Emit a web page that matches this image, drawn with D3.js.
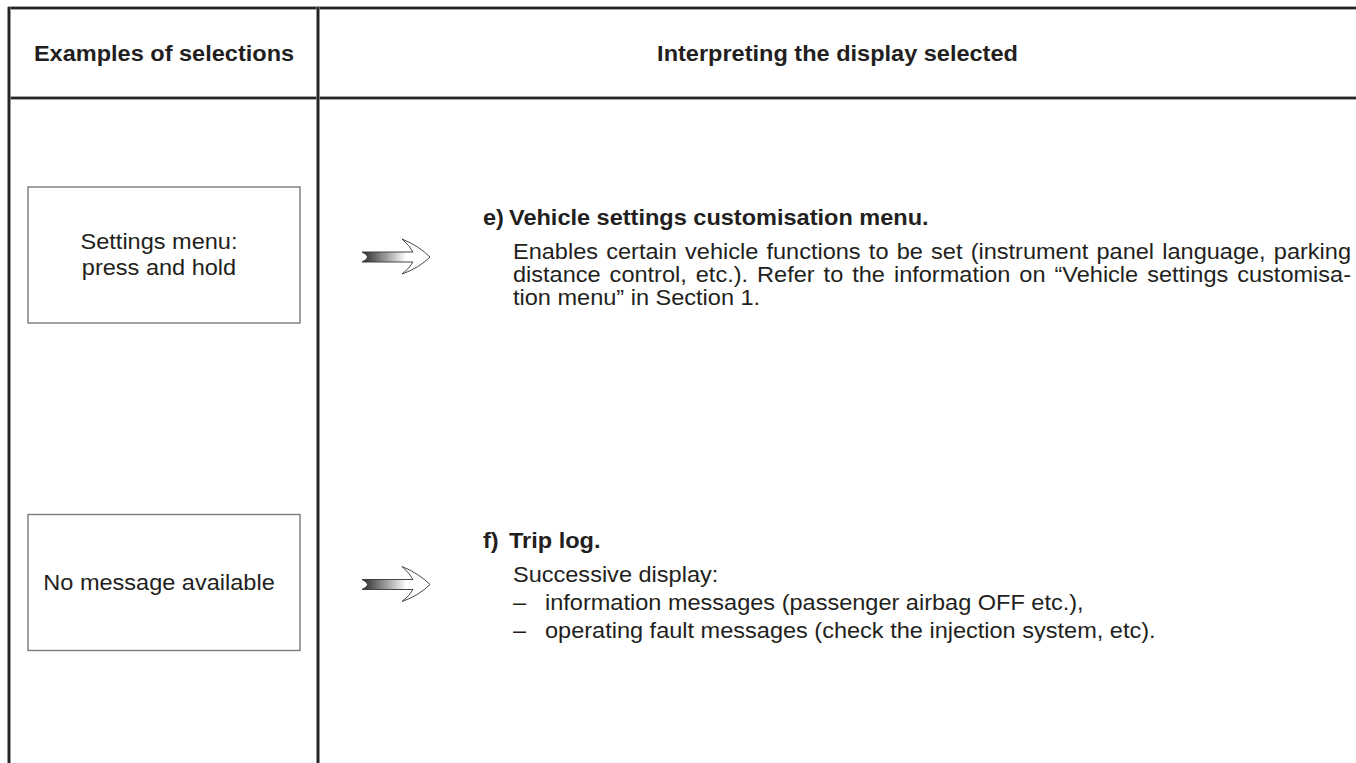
<!DOCTYPE html>
<html>
<head>
<meta charset="utf-8">
<script src="https://cdn.jsdelivr.net/npm/d3@7"></script>
<style>
  html, body { margin: 0; padding: 0; background: #fff; }
  svg { display: block; }
  text { font-family: "Liberation Sans", Arial, Helvetica, sans-serif; fill: #231f20; }
</style>
</head>
<body>
<script>
// ---- content ----
const columnHeaders = ["Examples of selections", "Interpreting the display selected"];
const selectionLabels = [["Settings menu:", "press and hold"], ["No message available"]];
const headingLetters = ["e)", "f)"];
const headingTitles = ["Vehicle settings customisation menu.", "Trip log."];
const bodyLinesE = [
  "Enables certain vehicle functions to be set (instrument panel language, parking",
  "distance control, etc.). Refer to the information on \u201cVehicle settings customisa-",
  "tion menu\u201d in Section 1."
];
const justifiedE = [true, true, false];
const introF = ["Successive display:"];
const bulletsF = [
  "information messages (passenger airbag OFF etc.),",
  "operating fault messages (check the injection system, etc)."
];
const rowIndex = [0, 1];

// ---- layout ----
const W = 1356, H = 763;
const FS = 22, SX = 1.07;   // font size and horizontal stretch of the source
const svg = d3.select("body").append("svg").attr("width", W).attr("height", H);
svg.append("rect").attr("width", W).attr("height", H).attr("fill", "#fff");

const colX = d3.scaleLinear().domain([0, 1, 2]).range([9, 318, 1356]);
const rowY = d3.scaleLinear().domain([0, 1]).range([255, 582.5]);
const headerTop = 8, headerBottom = 98;

function addText(parent, x, y, str, opts = {}) {
  const t = parent.append("text")
    .attr("transform", `translate(${x},${y}) scale(${SX},1)`)
    .attr("font-size", opts.size || FS)
    .attr("text-anchor", opts.anchor || "start")
    .text(str);
  if (opts.bold) t.attr("font-weight", "bold");
  if (opts.dy) t.attr("dy", opts.dy);
  return t;
}

// gradient for arrows
const defs = svg.append("defs");
const grad = defs.append("linearGradient").attr("id", "arrowGrad")
  .attr("x1", "0%").attr("x2", "100%").attr("y1", "0%").attr("y2", "0%");
grad.append("stop").attr("offset", "0%").attr("stop-color", "#2a2a2a");
grad.append("stop").attr("offset", "25%").attr("stop-color", "#7a7a7a");
grad.append("stop").attr("offset", "65%").attr("stop-color", "#fff");
grad.append("stop").attr("offset", "100%").attr("stop-color", "#fff");

// table lines
const lineColor = "#262424";
function hline(y, x1, x2) {
  svg.append("line").attr("x1", x1).attr("x2", x2).attr("y1", y).attr("y2", y)
    .attr("stroke", "#8a8a8a").attr("stroke-width", 3.6);
  svg.append("line").attr("x1", x1).attr("x2", x2).attr("y1", y).attr("y2", y)
    .attr("stroke", lineColor).attr("stroke-width", 2.2);
}
function vline(x, y1, y2) {
  svg.append("line").attr("x1", x).attr("x2", x).attr("y1", y1).attr("y2", y2)
    .attr("stroke", "#8a8a8a").attr("stroke-width", 3.6);
  svg.append("line").attr("x1", x).attr("x2", x).attr("y1", y1).attr("y2", y2)
    .attr("stroke", lineColor).attr("stroke-width", 2.2);
}
hline(headerTop, colX(0) - 1, W);
hline(headerBottom, colX(0) - 1, W);
vline(colX(0), headerTop - 1, H);
vline(colX(1), headerTop - 1, H);

// headers
columnHeaders.forEach((d, i) => {
  addText(svg, (colX(i) + colX(i + 1)) / 2 + 0.5, (headerTop + headerBottom) / 2, d,
    { bold: true, anchor: "middle", dy: "0.37em" });
});

// selection boxes
const boxW = 272, boxH = 136, boxX = 28, labelCX = 159;
const boxes = svg.selectAll("g.box").data(rowIndex).join("g").attr("class", "box");
boxes.append("rect")
  .attr("x", boxX).attr("y", i => rowY(i) - boxH / 2)
  .attr("width", boxW).attr("height", boxH)
  .attr("fill", "#fff").attr("stroke", "#7a7a7a").attr("stroke-width", 1.4);
boxes.each(function (i) {
  const lines = selectionLabels[i];
  const lh = 26;
  lines.forEach((d, k) => {
    addText(d3.select(this), labelCX,
      rowY(i) + (k - (lines.length - 1) / 2) * lh, d,
      { anchor: "middle", dy: "0.33em" });
  });
});

// arrows
const arrowPath = "M0,-5 L51,-5 Q48,-11 40,-18 Q57,-11 68,0 Q57,11 40,17 Q48,11 51,5 L0,5 Q11,0 0,-5 Z";
svg.selectAll("path.arrow").data(rowIndex).join("path")
  .attr("class", "arrow")
  .attr("d", arrowPath)
  .attr("transform", i => `translate(362,${rowY(i) + 2})`)
  .attr("fill", "url(#arrowGrad)")
  .attr("stroke", "#333").attr("stroke-width", 0.9);

// right column text (baselines)
const letterX = 483, titleX = 509, bodyX = 513, bulletTextX = 545, rightEdge = 1351;
const headingBase = [225, 548];
const firstGap = 33.5, lineStepE = 23, lineStepF = 28;

headingLetters.forEach((d, i) => {
  addText(svg, letterX, headingBase[i], d, { bold: true });
  addText(svg, titleX, headingBase[i], headingTitles[i], { bold: true });
});

// e) body, justified by word spacing
bodyLinesE.forEach((d, k) => {
  const t = addText(svg, bodyX, headingBase[0] + firstGap + k * lineStepE, d);
  if (justifiedE[k]) {
    const natural = t.node().getComputedTextLength();
    const spaces = (d.match(/ /g) || []).length;
    const target = (rightEdge - bodyX) / SX;
    t.attr("word-spacing", (target - natural) / spaces);
  }
});

// f) body
introF.forEach((d, k) => {
  addText(svg, bodyX, headingBase[1] + firstGap + k * lineStepF, d);
});
bulletsF.forEach((d, k) => {
  const y = headingBase[1] + firstGap + (k + introF.length) * lineStepF;
  addText(svg, bodyX, y, "\u2013");
  addText(svg, bulletTextX, y, d);
});
</script>
</body>
</html>
